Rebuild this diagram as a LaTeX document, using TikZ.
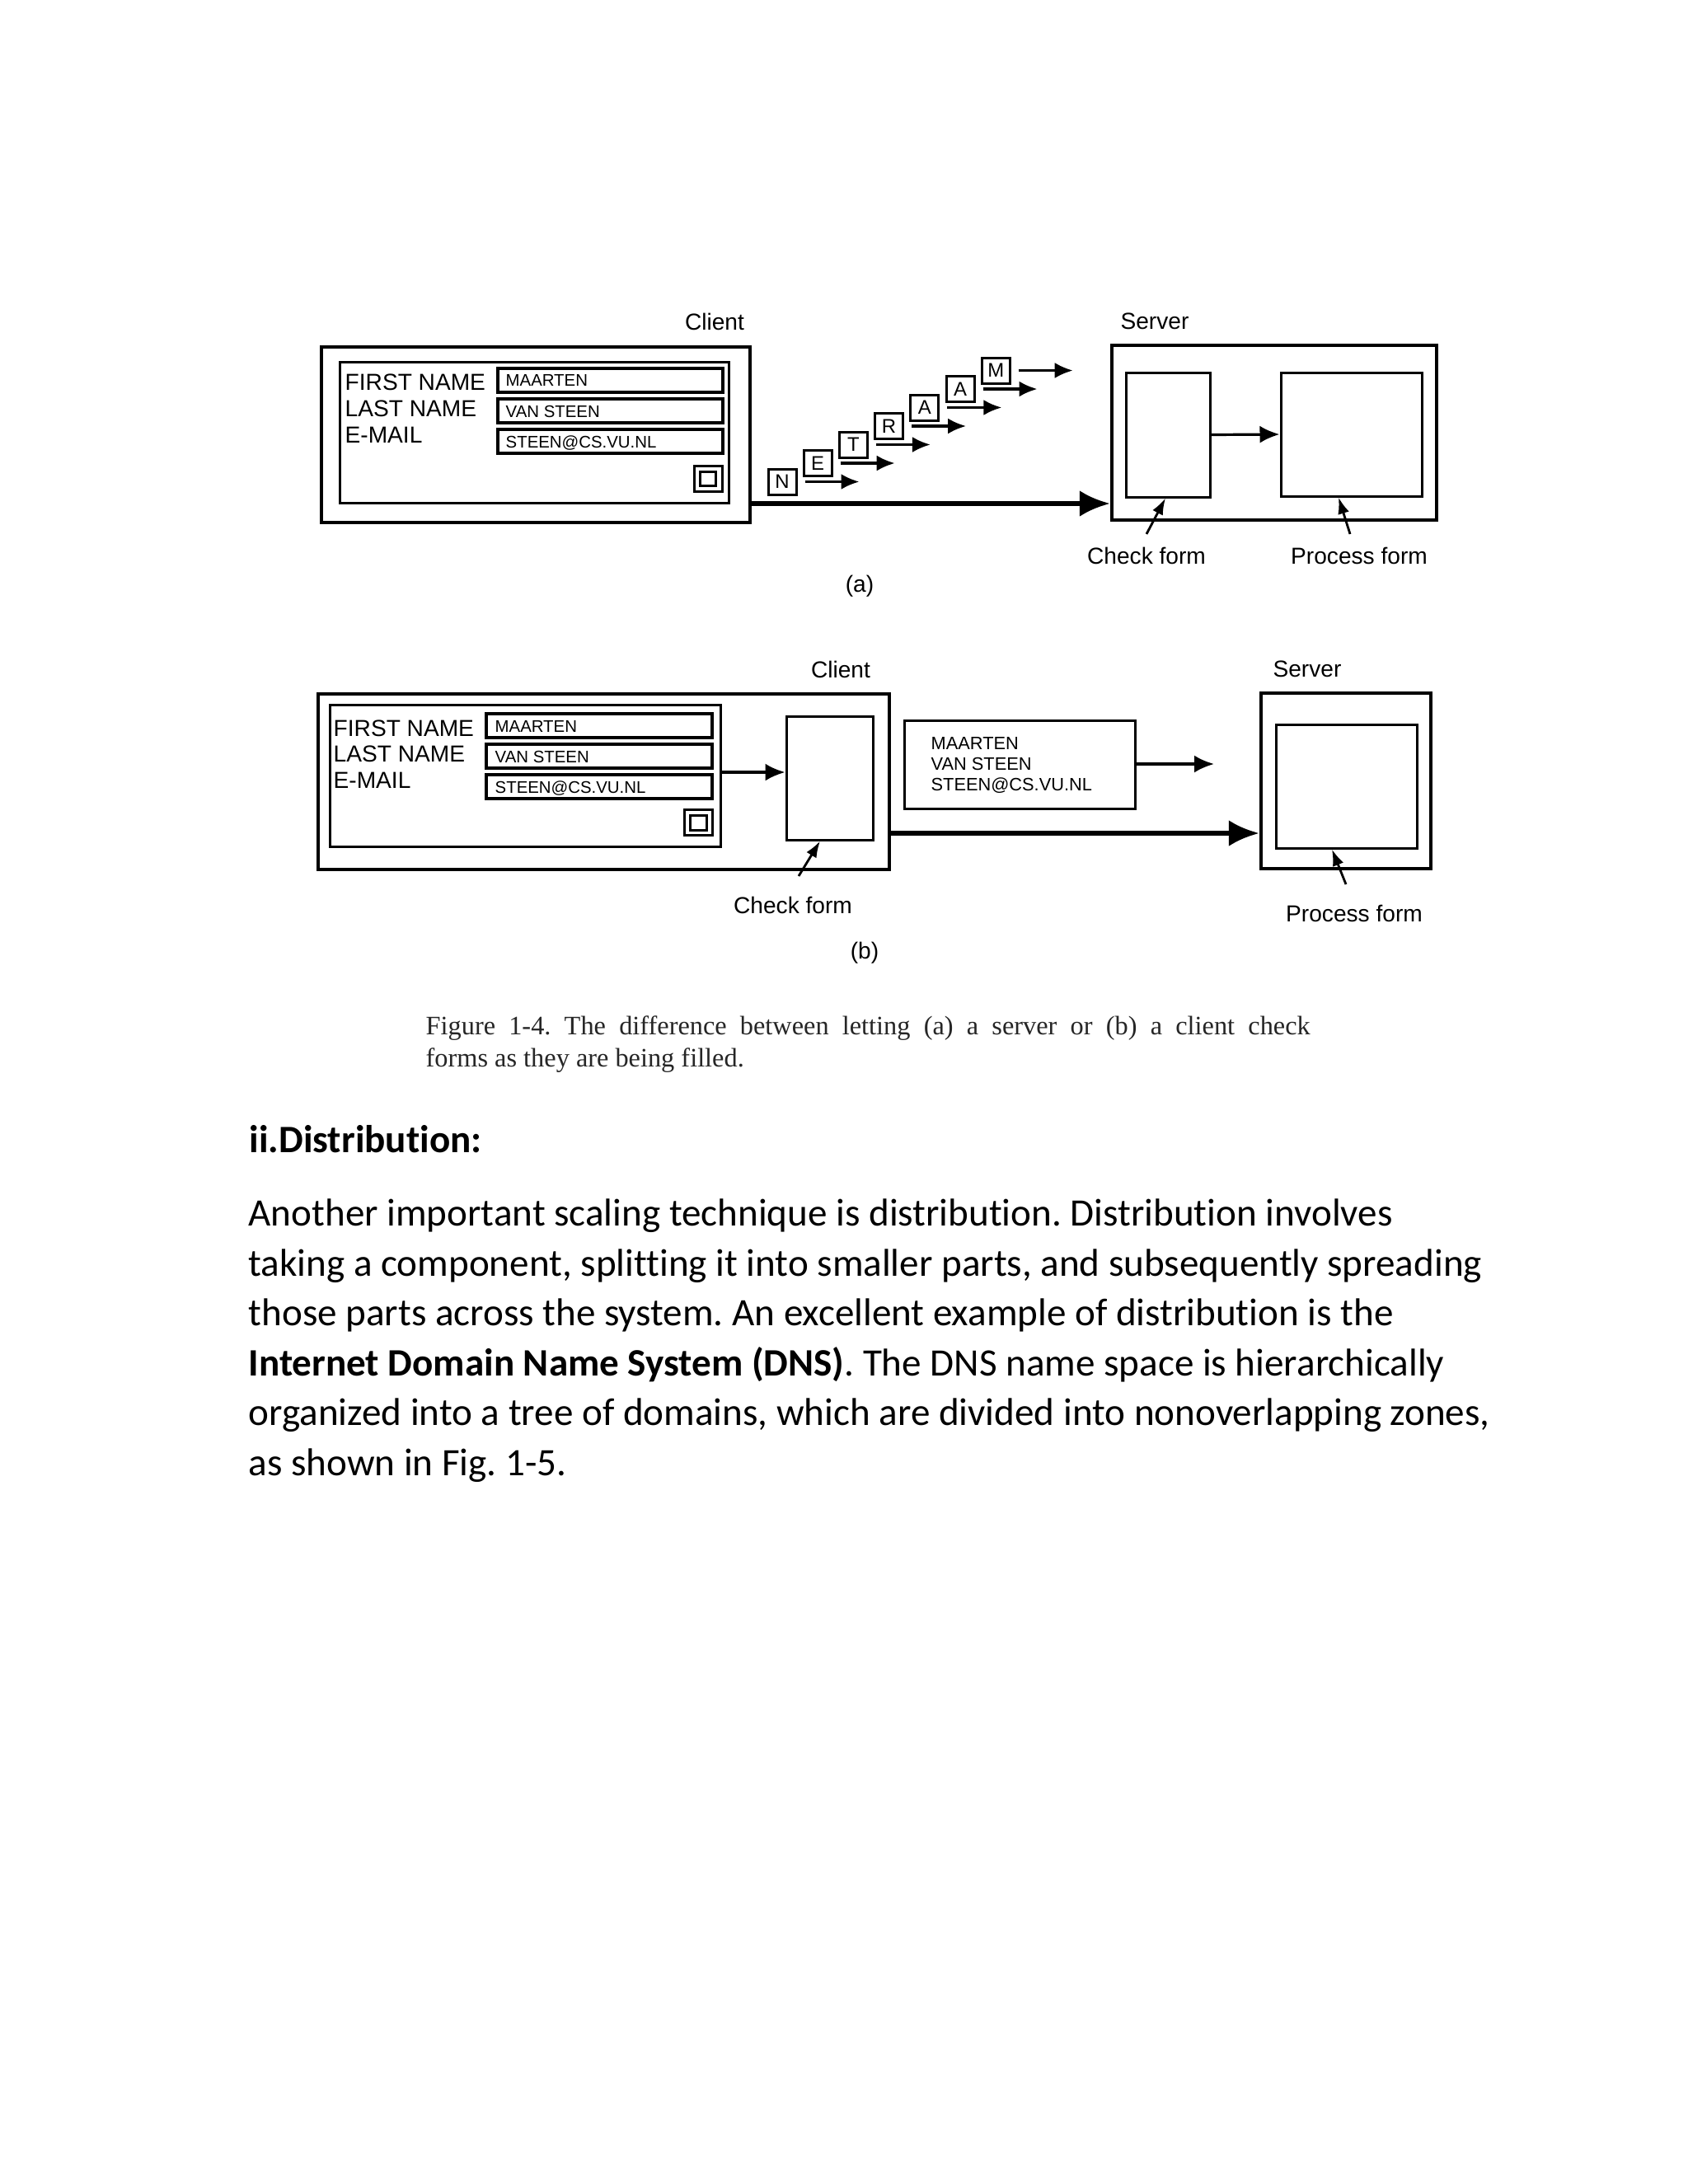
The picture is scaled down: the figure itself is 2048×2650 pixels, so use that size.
\documentclass[tikz,border=0pt]{standalone}
\usepackage{fontspec}
\setmainfont{Liberation Sans}
\newfontfamily\capfont{Liberation Serif}
\newfontfamily\bodyfont[Ligatures=NoCommon]{Carlito}
\usetikzlibrary{arrows.meta,fit,calc}
\frenchspacing
\begin{document}
\frenchspacing
\begin{tikzpicture}[x=0.1mm,y=-0.1mm,
  outerbox/.style={draw, line width=0.45mm, inner sep=0pt},
  innerbox/.style={draw, line width=0.3mm, inner sep=0pt},
  fieldbox/.style={draw, line width=0.32mm, inner sep=0pt},
  lbl/.style={font=\fontsize{8}{9.6}\selectfont, inner sep=0pt},
  ftxt/.style={font=\fontsize{5.8}{7}\selectfont, inner sep=0pt},
  mtxt/.style={font=\fontsize{6.2}{7.4}\selectfont, inner sep=0pt},
  letterbox/.style={draw, line width=0.3mm, minimum width=3.4mm, minimum height=3.1mm, inner sep=0pt, font=\fontsize{6.8}{8}\selectfont},
  arr/.style={line width=0.32mm, -{Latex[length=2.4mm,width=2.1mm]}},
  smallarr/.style={line width=0.32mm, -{Latex[length=2.2mm,width=1.9mm]}},
  mainarr/.style={line width=0.6mm, -{Latex[length=3.7mm,width=3.2mm]}},
  ptr/.style={line width=0.28mm, -{Latex[length=2.0mm,width=1.4mm]}},
  captxt/.style={font=\capfont\fontsize{9.2}{11}\selectfont, text=black!85, inner sep=0pt},
  bodytxt/.style={font=\bodyfont\fontsize{13.4}{16}\selectfont, inner sep=0pt, anchor=base west}
]
\fill[white] (0,0) rectangle (2048,2650);
\useasboundingbox (0,0) rectangle (2048,2650);

% ================= (a) =================
\node[lbl] (clientAl) at (867,390) {Client};
\node[lbl] (serverAl) at (1401,390) {Server};
\node[outerbox, fit={(390,421) (910,634)}] (clientA) {};
\node[innerbox, fit={(412,439) (884,610)}] (formA) {};
\node[fieldbox, fit={(604,447) (877,476)}] (fA1) {};
\node[fieldbox, fit={(604,484) (877,513)}] (fA2) {};
\node[fieldbox, fit={(604,521) (877,550)}] (fA3) {};
\node[lbl, anchor=base west] (lA1) at (418,473) {FIRST NAME};
\node[lbl, anchor=base west] (lA2) at (418,505) {LAST NAME};
\node[lbl, anchor=base west] (lA3) at (418,537) {E-MAIL};
\node[ftxt, anchor=base west] (tA1) at (613,468) {MAARTEN};
\node[ftxt, anchor=base west] (tA2) at (613,506) {VAN STEEN};
\node[ftxt, anchor=base west] (tA3) at (613,543) {STEEN@CS.VU.NL};
\node[innerbox, fit={(842,565) (876,596)}] (btnA) {};
\node[innerbox, fit={(849,572) (868,589)}] (btnAi) {};

\node[outerbox, fit={(1349,419) (1743,631)}] (serverA) {};
\node[innerbox, fit={(1366,452) (1468,603)}] (checkA) {};
\node[innerbox, fit={(1554,452) (1725,602)}] (processA) {};
\draw[arr] (checkA.east) -- (processA.west);

\coordinate (mainAy) at (0,611);
\draw[mainarr] (clientA.east |- mainAy) -- (serverA.west |- mainAy);

\foreach \L [count=\i from 0] in {N,E,T,R,A,A,M}{
  \node[letterbox] (let\i) at ({949+43.2*\i},{584.5-22.5*\i}) {\L};
  \draw[smallarr] ([xshift=0.9mm]let\i.east) -- ++(66,0);
}

\node[lbl] (cfA) at (1391,674) {Check form};
\node[lbl] (pfA) at (1649,674) {Process form};
\draw[ptr] ([yshift=1.5mm]cfA.north) -- ([xshift=-0.3mm]checkA.south);
\draw[ptr] ([xshift=-1.1mm,yshift=1.5mm]pfA.north) -- ([xshift=-1.55mm]processA.south);
\node[lbl] (capa) at (1043,711) {(a)};

% ================= (b) =================
\node[lbl] (clientBl) at (1020,812) {Client};
\node[lbl] (serverBl) at (1586,812) {Server};
\node[outerbox, fit={(386,842) (1079,1055)}] (clientB) {};
\node[innerbox, fit={(400,855) (874,1027)}] (formB) {};
\node[fieldbox, fit={(590,866) (864,895)}] (fB1) {};
\node[fieldbox, fit={(590,903) (864,932)}] (fB2) {};
\node[fieldbox, fit={(590,940) (864,969)}] (fB3) {};
\node[lbl, anchor=base west] (lB1) at (404,893) {FIRST NAME};
\node[lbl, anchor=base west] (lB2) at (404,924) {LAST NAME};
\node[lbl, anchor=base west] (lB3) at (404,956) {E-MAIL};
\node[ftxt, anchor=base west] (tB1) at (600,888) {MAARTEN};
\node[ftxt, anchor=base west] (tB2) at (600,925) {VAN STEEN};
\node[ftxt, anchor=base west] (tB3) at (600,962) {STEEN@CS.VU.NL};
\node[innerbox, fit={(830,982) (864,1013)}] (btnB) {};
\node[innerbox, fit={(837,989) (857,1007)}] (btnBi) {};
\node[innerbox, fit={(954,869) (1059,1019)}] (checkB) {};
\coordinate (fcBy) at (0,937);
\draw[arr] (formB.east |- fcBy) -- (checkB.west |- fcBy);

\node[innerbox, fit={(1097,874) (1377,981)}] (msgB) {};
\node[mtxt, anchor=base west] (mB1) at (1129,909) {MAARTEN};
\node[mtxt, anchor=base west] (mB2) at (1129,934) {VAN STEEN};
\node[mtxt, anchor=base west] (mB3) at (1129,959) {STEEN@CS.VU.NL};
\coordinate (msgEnd) at (1473,927);
\draw[arr] (msgB.east |- msgEnd) -- (msgEnd);

\node[outerbox, fit={(1530,841) (1736,1054)}] (serverB) {};
\node[innerbox, fit={(1548,879) (1719,1029)}] (processB) {};
\coordinate (mainBy) at (0,1011);
\draw[mainarr] (clientB.east |- mainBy) -- (serverB.west |- mainBy);

\node[lbl] (cfB) at (962,1098) {Check form};
\node[lbl] (pfB) at (1643,1108) {Process form};
\draw[ptr] ([xshift=0.7mm,yshift=2.4mm]cfB.north) -- ([xshift=-1.15mm]checkB.south);
\draw[ptr] ([xshift=-1.0mm,yshift=2.4mm]pfB.north) -- ([xshift=-1.75mm]processB.south);
\node[lbl] (capb) at (1049,1156) {(b)};

% ================= caption =================
\node[captxt, anchor=base west] (cap1) at (516,1255) {\makebox[107.3mm][s]{Figure 1-4. The difference between letting (a) a server or (b) a client check}};
\node[captxt, anchor=base west] (cap2) at (516,1294) {forms as they are being filled.};

% ================= body text =================
\node[bodytxt] (head) at (302,1398) {\bfseries ii.Distribution:};
\node[bodytxt] (b1) at (301,1487) {Another important scaling technique is distribution. Distribution involves};
\node[bodytxt] (b2) at (301,1548) {taking a component, splitting it into smaller parts, and subsequently spreading};
\node[bodytxt] (b3) at (301,1608) {those parts across the system. An excellent example of distribution is the};
\node[bodytxt] (b4) at (301,1669) {\textbf{Internet Domain Name System (DNS)}. The DNS name space is hierarchically};
\node[bodytxt] (b5) at (301,1729) {organized into a tree of domains, which are divided into nonoverlapping zones,};
\node[bodytxt] (b6) at (301,1790) {as shown in Fig. 1-5.};
\end{tikzpicture}
\end{document}
